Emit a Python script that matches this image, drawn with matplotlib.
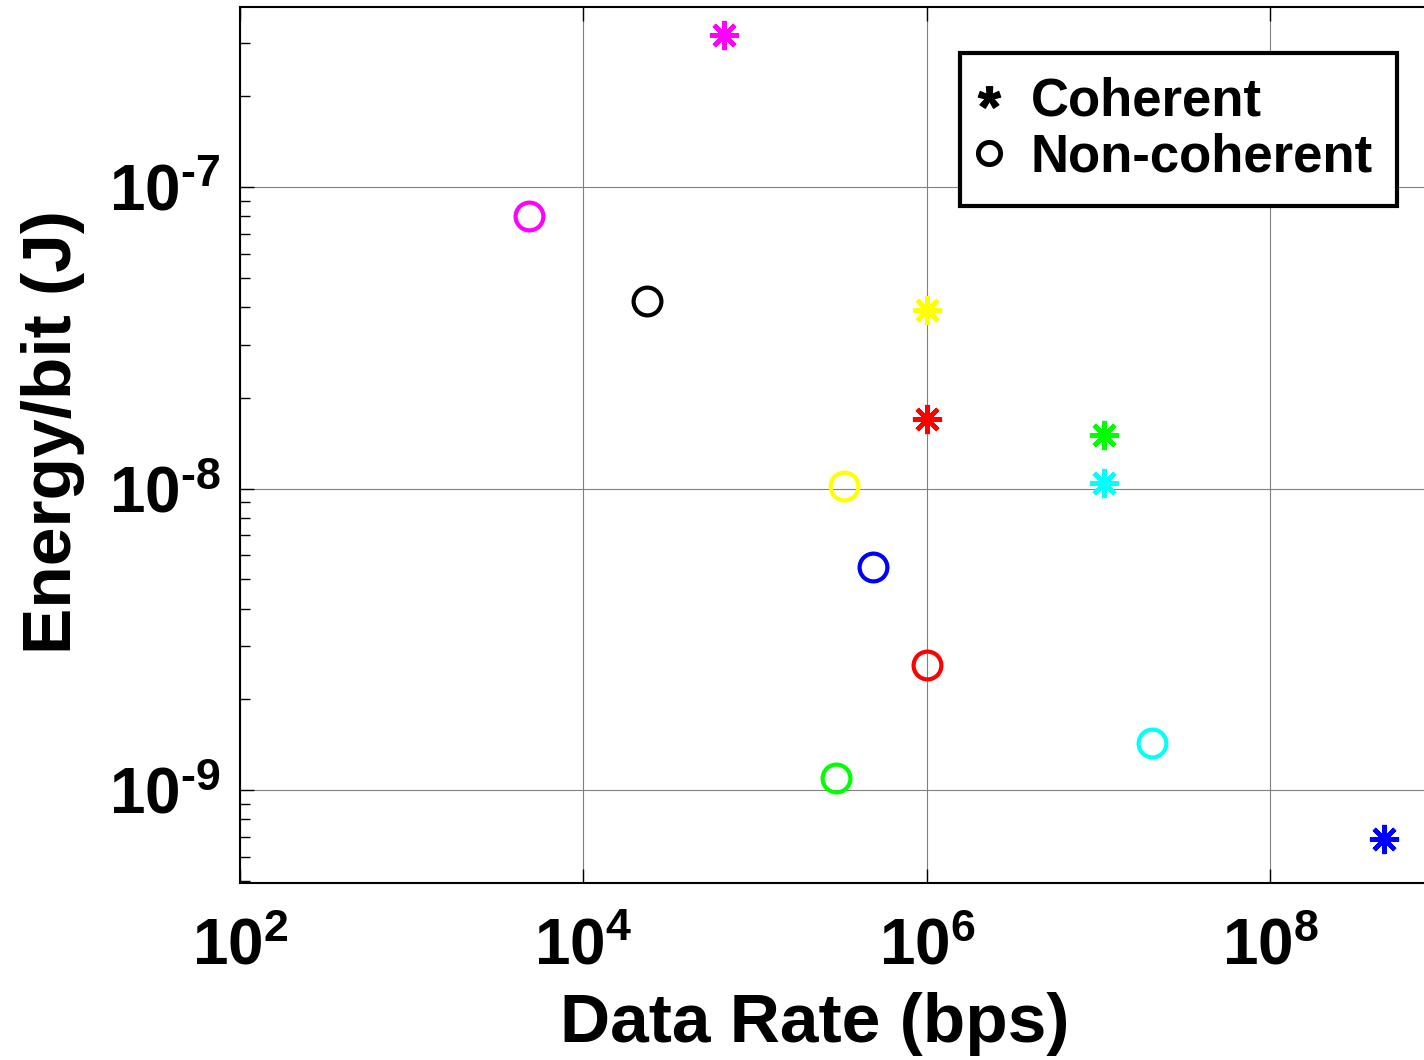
import matplotlib
matplotlib.use('Agg')
import numpy as np
import matplotlib.pyplot as plt
from matplotlib.lines import Line2D
from matplotlib.ticker import LogLocator, FuncFormatter, NullLocator

plt.rcParams['font.family'] = ['Liberation Sans', 'DejaVu Sans']
plt.rcParams['font.weight'] = 'bold'
plt.rcParams['mathtext.fontset'] = 'custom'
plt.rcParams['mathtext.rm'] = 'Liberation Sans:bold'
plt.rcParams['mathtext.bf'] = 'Liberation Sans:bold'
plt.rcParams['mathtext.default'] = 'bf'

# Coherent receivers (asterisks)
coh_rate = [6.6e4, 1.0e6, 1.0e6, 1.07e7, 1.07e7, 4.6e8]
coh_energy = [3.2e-7, 3.9e-8, 1.7e-8, 1.5e-8, 1.04e-8, 6.9e-10]
coh_colors = ['#ff00ff', '#ffff00', '#ff0000', '#00ff00', '#00ffff', '#0000ff']

# Non-coherent receivers (circles)
nc_rate = [4.8e3, 2.35e4, 3.3e5, 4.85e5, 1.0e6, 2.95e5, 2.05e7]
nc_energy = [8.0e-8, 4.2e-8, 1.02e-8, 5.5e-9, 2.6e-9, 1.1e-9, 1.43e-9]
nc_colors = ['#ff00ff', '#000000', '#ffff00', '#0000ff', '#ff0000', '#00ff00', '#00ffff']

legend_labels = ['Coherent', 'Non-coherent']


def pow10_label(v, pos):
    # short hyphen in the exponent, like the original figure
    e = int(round(np.log10(v)))
    exp = str(e) if e >= 0 else '\u2010' + str(-e)
    return r'$10^{%s}$' % exp


fig = plt.figure(figsize=(14.24, 10.6), dpi=100)
ax = fig.add_axes([240 / 1424, 177 / 1060, 1184 / 1424, 876 / 1060])
ax.set_xscale('log')
ax.set_yscale('log')

for x, y, c in zip(coh_rate, coh_energy, coh_colors):
    ax.plot(x, y, linestyle='none', marker=(8, 2, 0), markersize=21,
            markeredgewidth=3.2, color=c)
for x, y, c in zip(nc_rate, nc_energy, nc_colors):
    ax.plot(x, y, linestyle='none', marker='o', markersize=20,
            markeredgewidth=3, markerfacecolor='none', markeredgecolor=c)

ax.set_xlim(1e2, 10 ** 8.894)
ax.set_ylim(10 ** -9.308, 10 ** -6.403)

ax.xaxis.set_major_locator(LogLocator(base=100.0))
ax.xaxis.set_minor_locator(NullLocator())
ax.xaxis.set_major_formatter(FuncFormatter(pow10_label))
ax.yaxis.set_major_locator(LogLocator(base=10.0))
ax.yaxis.set_minor_locator(LogLocator(base=10.0, subs=range(2, 10)))
ax.yaxis.set_major_formatter(FuncFormatter(pow10_label))
ax.yaxis.set_minor_formatter(FuncFormatter(lambda v, p: ''))

ax.tick_params(which='both', direction='in', top=True, right=False)
ax.tick_params(which='major', length=10, width=1)
ax.tick_params(which='minor', length=7, width=1)
ax.tick_params(axis='x', labelsize=46, pad=25)
ax.tick_params(axis='y', labelsize=46, pad=14)

ax.grid(True, which='major', color='#808080', linewidth=0.8)
ax.set_axisbelow(True)
for side in ['left', 'bottom', 'top']:
    ax.spines[side].set_linewidth(1.5)
ax.spines['right'].set_visible(False)

ax.set_xlabel('Data Rate (bps)', fontsize=50, fontweight='bold', labelpad=10, x=0.4856)
ax.set_ylabel('Energy/bit (J)', fontsize=50, fontweight='bold', labelpad=17, y=0.515)

handles = [
    Line2D([], [], linestyle='none', marker='$*$', markersize=16, color='black'),
    Line2D([], [], linestyle='none', marker='o', markersize=16, markeredgewidth=3.5,
           markerfacecolor='none', markeredgecolor='black'),
]
leg = ax.legend(handles, legend_labels, loc='upper right',
                bbox_to_anchor=(0.977, 0.9475), fontsize=38, frameon=True,
                fancybox=False, edgecolor='black', framealpha=1,
                handlelength=0.2, handletextpad=0.69, borderpad=0.45,
                labelspacing=0.1, borderaxespad=0)
leg.get_frame().set_linewidth(3)
for t in leg.get_texts():
    t.set_fontweight('bold')

fig.savefig('out.png', dpi=100)
